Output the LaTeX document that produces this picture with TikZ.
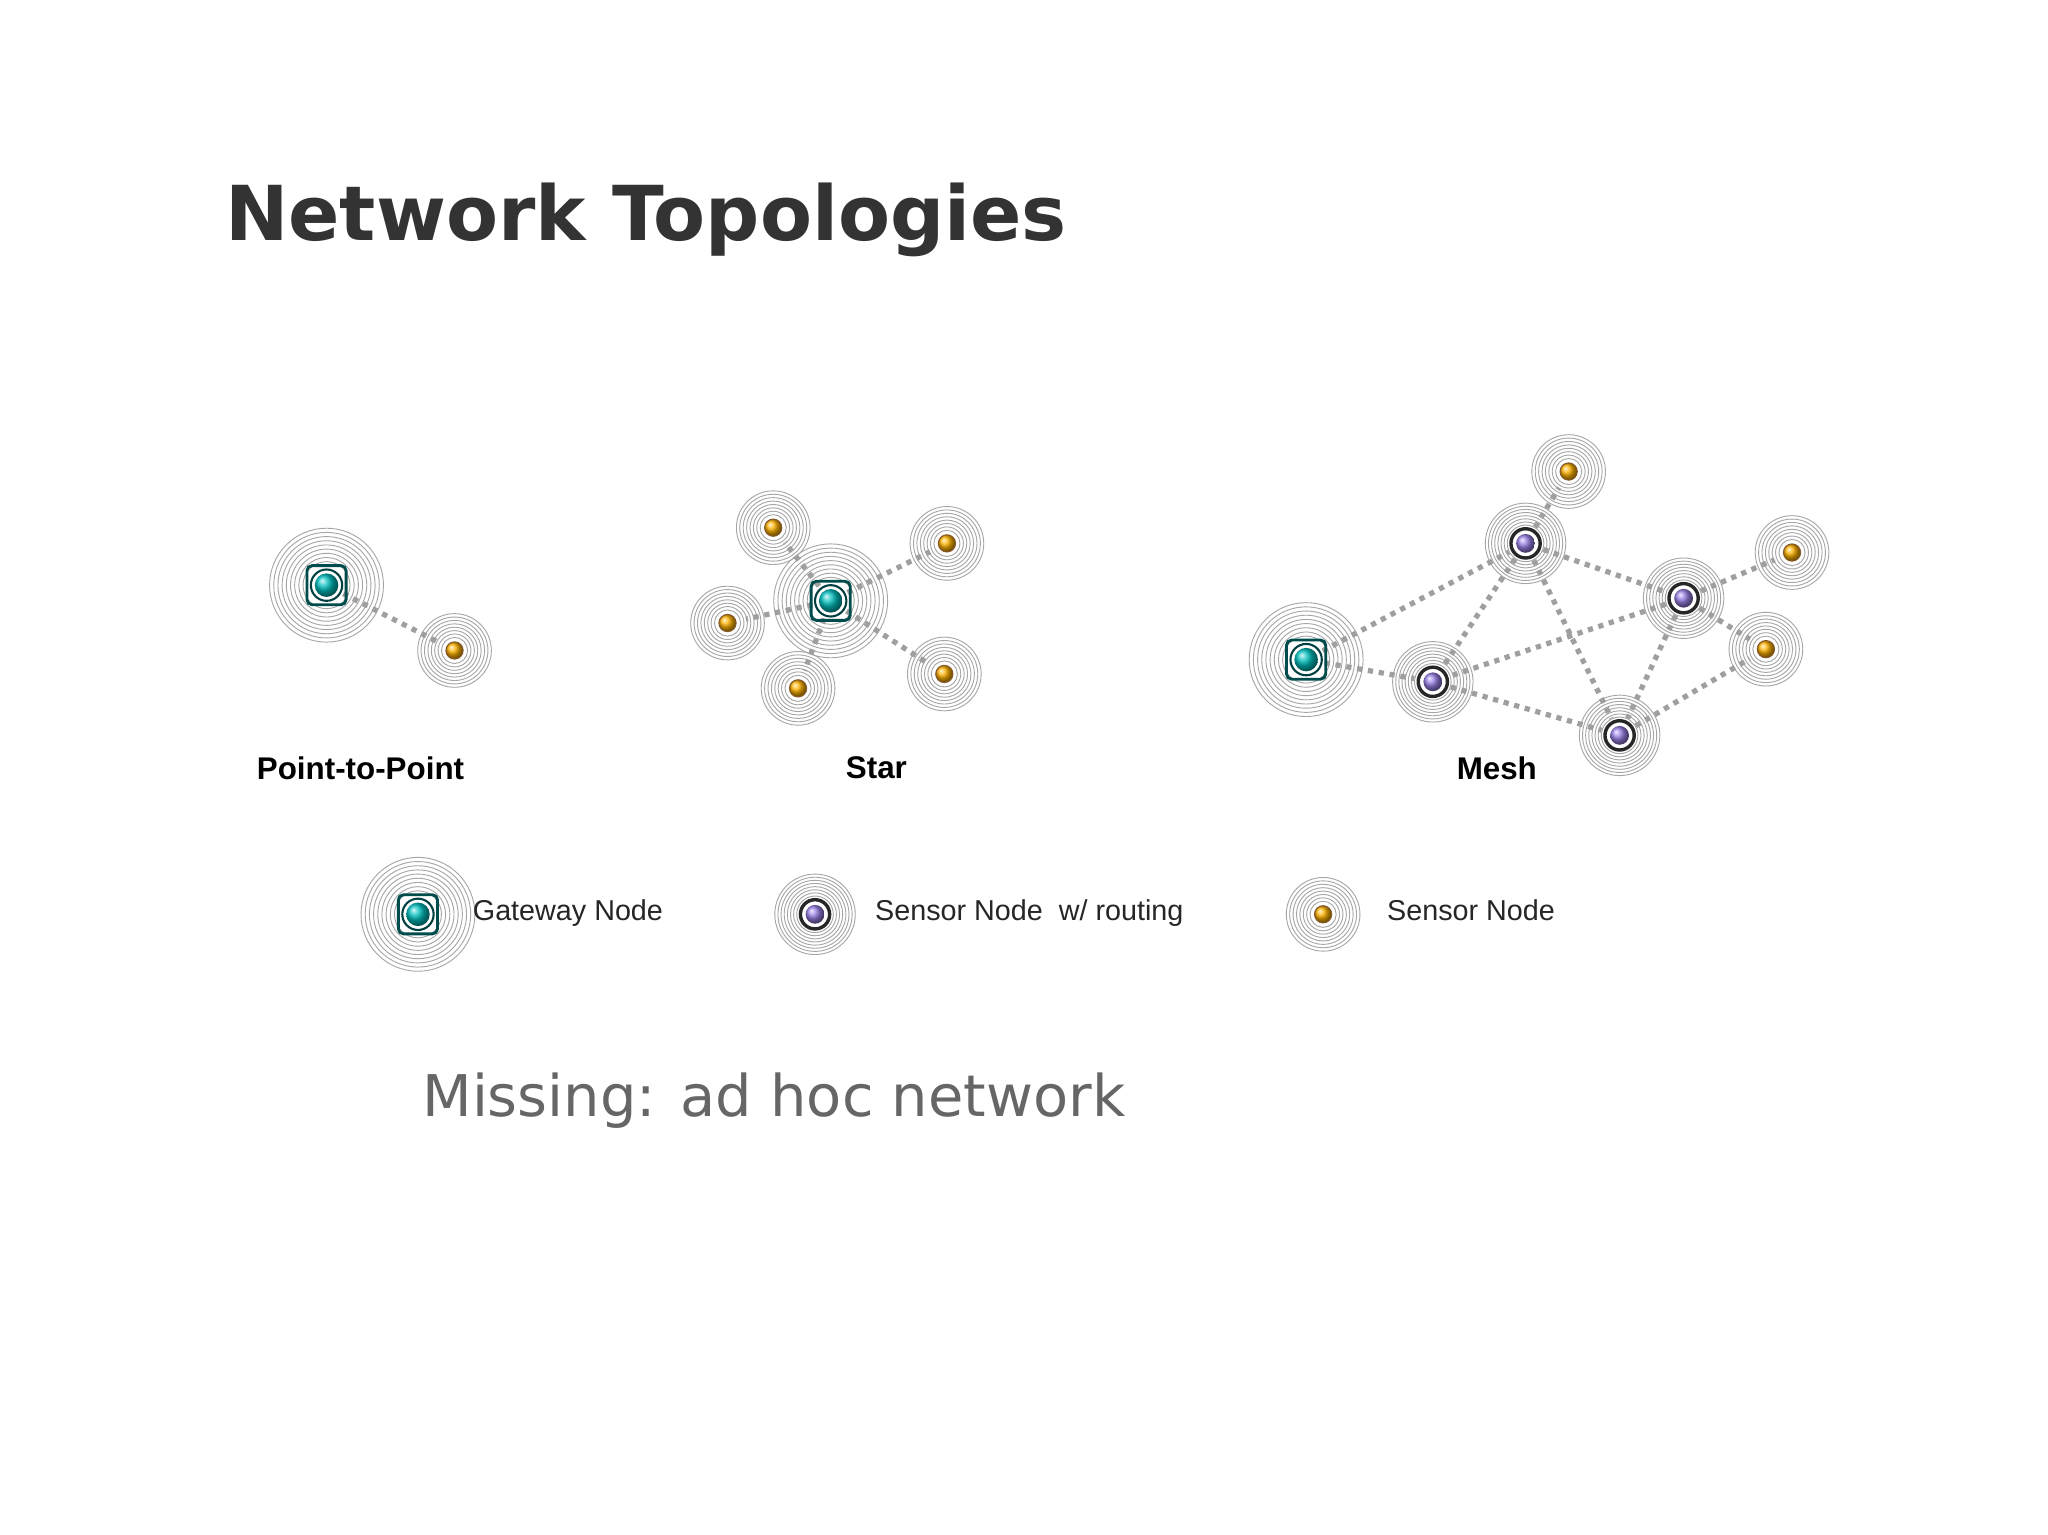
\documentclass[tikz,border=0pt]{standalone}
\usepackage{fontspec}
\setmainfont{DejaVu Sans}
\newfontfamily\arialf{Liberation Sans}
\usetikzlibrary{calc}
\begin{document}
\begin{tikzpicture}[x=0.5pt,y=-0.5pt,
  pt/.style={circle,inner sep=0pt,minimum size=2pt},
  link/.style={draw=gray!75,line width=2pt,dash pattern=on 2pt off 2.2pt,shorten >=6pt,shorten <=6pt},
  ringc/.style={draw=gray!70,line width=0.35pt},
  lab/.style={font=\arialf\bfseries\fontsize{12}{14}\selectfont,text=black},
  leg/.style={font=\arialf\fontsize{11}{13}\selectfont,text=black!85,anchor=west}]
\useasboundingbox (0,0) rectangle (1568,1175);
\fill[white] (0,0) rectangle (1568,1175);
\newcommand\gwring[1]{\foreach \r in {9,10.6,...,22.5}\draw[ringc] (#1) circle (\r pt);}
\newcommand\snring[1]{\foreach \r in {5,6.3,...,15}\draw[ringc] (#1) circle (\r pt);}
\newcommand\rtring[1]{\foreach \r in {7,8.2,...,16}\draw[ringc] (#1) circle (\r pt);}
\newcommand\gwc[1]{\draw[draw=teal!60!black,line width=1.1pt,rounded corners=2pt] ($(#1)+(-7.5pt,-7.5pt)$) rectangle ($(#1)+(7.5pt,7.5pt)$);
  \fill[white] (#1) circle (6.5pt); \draw[teal!50!black,line width=0.8pt] (#1) circle (6pt);
  \shade[ball color=teal!50!cyan] (#1) circle (4.5pt);}
\newcommand\snc[1]{\fill[white](#1) circle (4.5pt);\shade[ball color=orange!60!yellow] (#1) circle (3.3pt);\draw[brown!70!black,line width=0.4pt] (#1) circle (3.3pt);}
\newcommand\rtc[1]{\fill[white](#1) circle (6.5pt);\draw[black!85,line width=1.3pt] (#1) circle (5.6pt);\shade[ball color=violet!40!blue!50] (#1) circle (3.6pt);}
% nodes
\node[pt] (pg) at (250,448) {}; \node[pt] (ps) at (348,498) {};
\node[pt] (sg) at (636,460) {};
\node[pt] (s1) at (592,404) {}; \node[pt] (s2) at (725,416) {}; \node[pt] (s3) at (557,477) {};
\node[pt] (s4) at (611,527) {}; \node[pt] (s5) at (723,516) {};
\node[pt] (mg) at (1000,505) {};
\node[pt] (r1) at (1168,416) {}; \node[pt] (r2) at (1289,458) {}; \node[pt] (r3) at (1097,522) {}; \node[pt] (r4) at (1240,563) {};
\node[pt] (m1) at (1201,361) {}; \node[pt] (m2) at (1372,423) {}; \node[pt] (m3) at (1352,497) {};
\node[pt] (lg) at (320,700) {}; \node[pt] (lr) at (624,700) {}; \node[pt] (ls) at (1013,700) {};
% rings
\gwring{pg}\gwring{sg}\gwring{mg}\gwring{lg}
\foreach \n in {ps,s1,s2,s3,s4,s5,m1,m2,m3,ls}{\snring{\n}}
\foreach \n in {r1,r2,r3,r4,lr}{\rtring{\n}}
% links
\draw[link] (pg)--(ps);
\foreach \n in {s1,s2,s3,s4,s5}{\draw[link] (sg)--(\n);}
\draw[link] (mg)--(r1); \draw[link] (mg)--(r3);
\draw[link] (r1)--(m1); \draw[link] (r1)--(r3); \draw[link] (r1)--(r2); \draw[link] (r1)--(r4);
\draw[link] (r2)--(m2); \draw[link] (r2)--(m3); \draw[link] (r2)--(r3); \draw[link] (r2)--(r4);
\draw[link] (r3)--(r4); \draw[link] (r4)--(m3);
% centers
\foreach \n in {pg,sg,mg,lg}{\gwc{\n}}
\foreach \n in {ps,s1,s2,s3,s4,s5,m1,m2,m3,ls}{\snc{\n}}
\foreach \n in {r1,r2,r3,r4,lr}{\rtc{\n}}
% text
\node[anchor=base west,font=\bfseries\fontsize{29}{34}\selectfont,text=black!80,inner sep=0] (title) at (172,184) {Network Topologies};
\node[lab] (l1) at (276,588) {Point-to-Point};
\node[lab] (l2) at (671,588) {Star};
\node[lab] (l3) at (1146,588) {Mesh};
\node[leg] (t1) at (355,699) {Gateway Node};
\node[leg] (t2) at (663,699) {Sensor Node\ \ w/ routing};
\node[leg] (t3) at (1055,697) {Sensor\ Node};
\node[anchor=base west,font=\fontsize{22}{26}\selectfont,text=black!60,inner sep=0] (miss) at (323,855) {Missing: ad hoc network};
\end{tikzpicture}
\end{document}
